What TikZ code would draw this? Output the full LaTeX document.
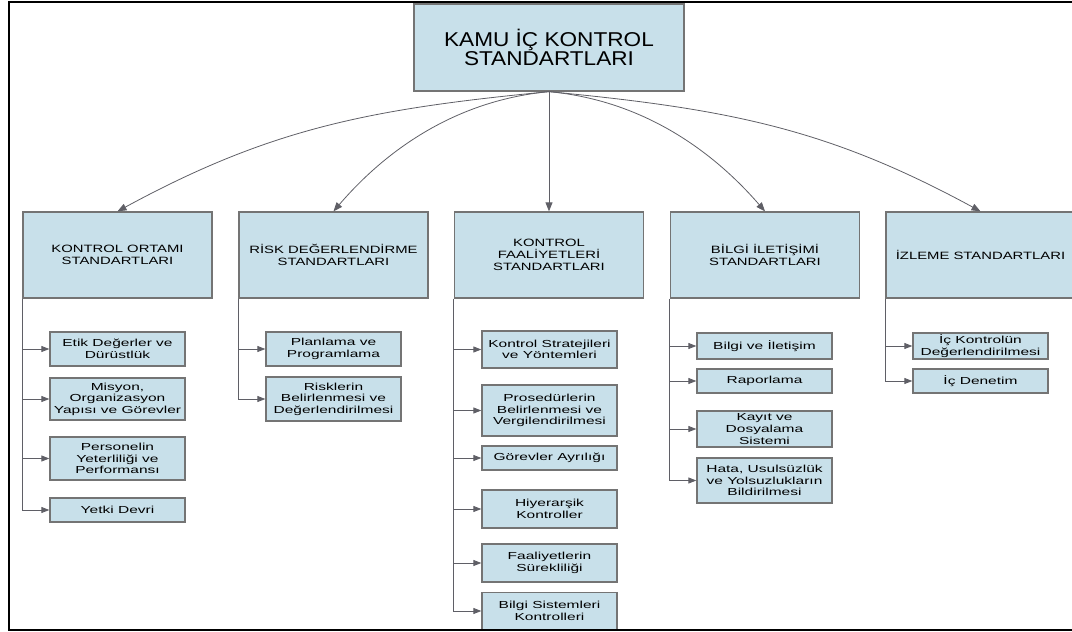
\documentclass[tikz,border=0pt]{standalone}
\usepackage{fontspec}
\setmainfont{Liberation Sans}
\newfontfamily\titlefont[FakeStretch=1.13]{Liberation Sans}
\newfontfamily\headfont[FakeStretch=1.40]{Liberation Sans}
\newfontfamily\kidfont[FakeStretch=1.52]{Liberation Sans}
\usetikzlibrary{arrows.meta}
\definecolor{boxblue}{HTML}{C8E0EA}
\definecolor{boxline}{HTML}{747474}
\definecolor{connline}{HTML}{5F5F66}
\tikzset{
  box/.style={draw=boxline, fill=boxblue, line width=1.3pt, inner sep=0pt, align=center, text=black},
  titlebox/.style={box, minimum width=270pt, minimum height=87pt, font=\titlefont\fontsize{20}{18.5}\selectfont},
  headbox/.style={box, minimum width=189pt, minimum height=86pt, font=\headfont\fontsize{10.6}{12}\selectfont},
  kidbox/.style={box, minimum width=135pt, font=\kidfont\fontsize{10.2}{11.6}\selectfont},
  conn/.style={draw=connline, line width=0.8pt},
  tipsmall/.style={-{Triangle[length=8pt,width=6pt]}},
  tipbig/.style={-{Triangle[length=9pt,width=7pt]}},
  frameline/.style={draw=black, line width=2pt}
}
\begin{document}
\begin{tikzpicture}[x=1pt,y=-1pt]
\useasboundingbox (0,0) rectangle (1072,632);

% top
\node[titlebox] (top) at (549,47.5) {KAMU İÇ KONTROL\\STANDARTLARI};

% headers
\node[headbox] (h1) at (117.5,255) {KONTROL ORTAMI\\STANDARTLARI};
\node[headbox] (h2) at (333.5,255) {RİSK DEĞERLENDİRME\\STANDARTLARI};
\node[headbox] (h3) at (549,255) {KONTROL\\FAALİYETLERİ\\STANDARTLARI};
\node[headbox] (h4) at (765,255) {BİLGİ İLETİŞİMİ\\STANDARTLARI};
\node[headbox] (h5) at (980.5,255) {İZLEME STANDARTLARI};

% column 1
\node[kidbox, minimum height=34pt] (c11) at (117.5,349) {Etik Değerler ve\\Dürüstlük};
\node[kidbox, minimum height=42pt] (c12) at (117.5,399) {Misyon,\\Organizasyon\\Yapısı ve Görevler};
\node[kidbox, minimum height=43pt] (c13) at (117.5,458.5) {Personelin\\Yeterliliği ve\\Performansı};
\node[kidbox, minimum height=24pt] (c14) at (117.5,510) {Yetki Devri};

% column 2
\node[kidbox, minimum height=34pt] (c21) at (333.5,349) {Planlama ve\\Programlama};
\node[kidbox, minimum height=44pt] (c22) at (333.5,399) {Risklerin\\Belirlenmesi ve\\Değerlendirilmesi};

% column 3
\node[kidbox, minimum height=37pt] (c31) at (549.5,349.5) {Kontrol Stratejileri\\ve Yöntemleri};
\node[kidbox, minimum height=51pt] (c32) at (549.5,410.5) {Prosedürlerin\\Belirlenmesi ve\\Vergilendirilmesi};
\node[kidbox, minimum height=24pt] (c33) at (549.5,458) {Görevler Ayrılığı};
\node[kidbox, minimum height=38pt] (c34) at (549.5,509) {Hiyerarşik\\Kontroller};
\node[kidbox, minimum height=38pt] (c35) at (549.5,563) {Faaliyetlerin\\Sürekliliği};
\node[kidbox, minimum height=37pt] (c36) at (549.5,611) {Bilgi Sistemleri\\Kontrolleri};

% column 4
\node[kidbox, minimum height=26pt] (c41) at (764.5,346) {Bilgi ve İletişim};
\node[kidbox, minimum height=24pt] (c42) at (764.5,381) {Raporlama};
\node[kidbox, minimum height=36pt] (c43) at (764.5,429) {Kayıt ve\\Dosyalama\\Sistemi};
\node[kidbox, minimum height=45pt] (c44) at (764.5,480.5) {Hata, Usulsüzlük\\ve Yolsuzlukların\\Bildirilmesi};

% column 5
\node[kidbox, minimum height=26pt] (c51) at (980.5,346) {İç Kontrolün\\Değerlendirilmesi};
\node[kidbox, minimum height=24pt] (c52) at (980.5,381) {İç Denetim};

% top connectors
\draw[conn, tipbig] (top.south) .. controls (369,109) and (270,128.5) .. (h1.north);
\draw[conn, tipbig] (top.south) .. controls (449,101) and (380,157) .. (h2.north);
\draw[conn, tipbig] (top.south) -- (h3.north);
\draw[conn, tipbig] (top.south) .. controls (649,101) and (718,157) .. (h4.north);
\draw[conn, tipbig] (top.south) .. controls (729,109) and (828,128.5) .. (h5.north);

% column connectors
\draw[conn, tipsmall] (h1.south west) |- (c14.west);
\foreach \c in {c11,c12,c13} \draw[conn, tipsmall] (h1.south west |- \c.west) -- (\c.west);
\draw[conn, tipsmall] (h2.south west) |- (c22.west);
\draw[conn, tipsmall] (h2.south west |- c21.west) -- (c21.west);
\draw[conn, tipsmall] (h3.south west) |- (c36.west);
\foreach \c in {c31,c32,c33,c34,c35} \draw[conn, tipsmall] (h3.south west |- \c.west) -- (\c.west);
\draw[conn, tipsmall] (h4.south west) |- (c44.west);
\foreach \c in {c41,c42,c43} \draw[conn, tipsmall] (h4.south west |- \c.west) -- (\c.west);
\draw[conn, tipsmall] (h5.south west) |- (c52.west);
\draw[conn, tipsmall] (h5.south west |- c51.west) -- (c51.west);

% frame
\draw[frameline] (1073,2) -- (9,2) -- (9,630.3) -- (1073,630.3);
\end{tikzpicture}
\end{document}
